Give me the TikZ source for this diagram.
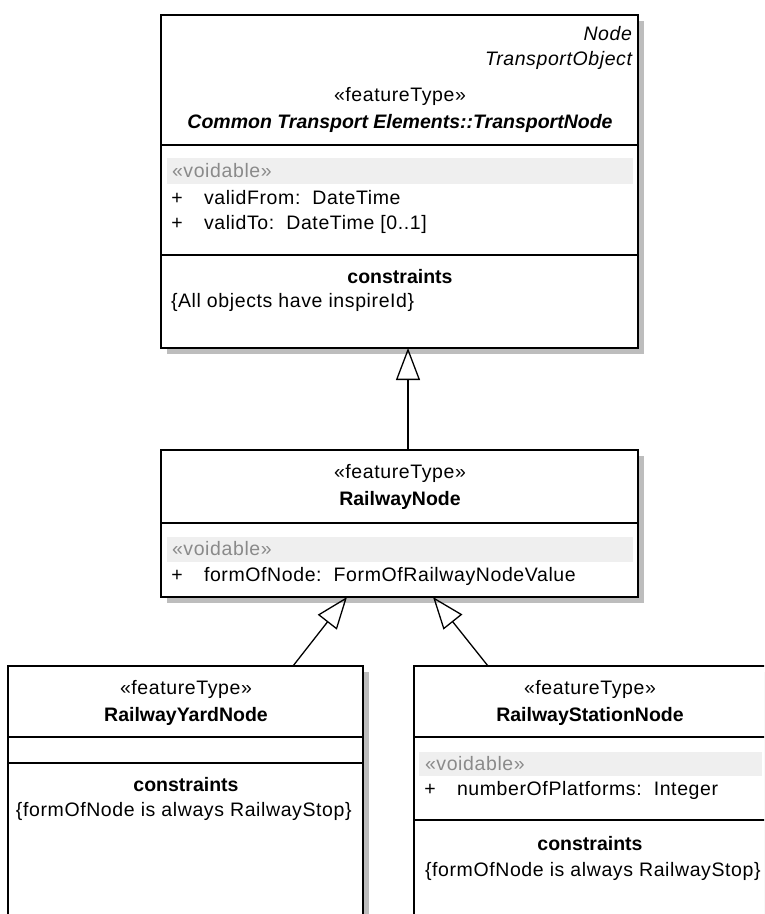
\documentclass[tikz,border=0pt]{standalone}
\usepackage{fontspec}
\setmainfont{Liberation Sans}[
  LetterSpace=3.1,
  BoldFeatures={LetterSpace=0},
  BoldItalicFeatures={LetterSpace=0}]
\usetikzlibrary{arrows.meta,shadows}
\definecolor{shadowgray}{HTML}{BDBDBD}
\definecolor{voidband}{HTML}{EFEFEF}
\definecolor{voidtext}{HTML}{8A8A8A}

\begin{document}
\begin{tikzpicture}[x=1pt,y=-1pt,
  classbox/.style={draw, line width=2pt, fill=white, outer sep=0pt, inner sep=0pt,
    anchor=north west,
    drop shadow={shadow xshift=5.5pt, shadow yshift=-5.5pt, fill=shadowgray, opacity=1}},
  divider/.style={line width=2pt},
  band/.style={fill=voidband, draw=none},
  txt/.style={inner sep=0pt, outer sep=0pt, anchor=base, font=\fontsize{19.5}{25}\selectfont},
  lefttxt/.style={txt, anchor=base west},
  righttxt/.style={txt, anchor=base east},
  stereo/.style={txt},
  cname/.style={txt, font=\fontsize{19.5}{25}\selectfont\bfseries},
  voidtag/.style={lefttxt, text=voidtext},
  gen/.style={line width=1.3pt, -{Triangle[open, length=32pt, width=24pt, line width=1.3pt]}}
]
\useasboundingbox (0,0) rectangle (764,914);
\clip (0,0) rectangle (764,914);

% ---------- TransportNode ----------
\node[classbox, minimum width=477pt, minimum height=333pt] (tn) at (161,15) {};
\draw[divider] (161,145) -- (638,145);
\draw[divider] (161,255) -- (638,255);
\fill[band] (167,158) rectangle (633,184);
\node[righttxt, font=\fontsize{19.5}{25}\selectfont\itshape] (tnp1) at (632,40) {Node};
\node[righttxt, font=\fontsize{19.5}{25}\selectfont\itshape] (tnp2) at (632,65) {TransportObject};
\node[stereo] (tns) at (400,101) {«featureType»};
\node[cname, font=\fontsize{19.5}{25}\selectfont\bfseries\itshape] (tnn) at (400,128) {Common Transport Elements::TransportNode};
\node[voidtag] (tnv) at (172,177) {«voidable»};
\node[txt] (tnpa) at (177,204) {+};
\node[lefttxt] (tna) at (204,204) {validFrom:\ \ DateTime};
\node[txt] (tnpb) at (177,229) {+};
\node[lefttxt] (tnb) at (204,229) {validTo:\ \ DateTime [0..1]};
\node[cname] (tnc) at (400,283) {constraints};
\node[lefttxt] (tnct) at (171,307) {\{All objects have inspireId\}};

% ---------- RailwayNode ----------
\node[classbox, minimum width=477pt, minimum height=147pt] (rn) at (161,450) {};
\draw[divider] (161,523) -- (638,523);
\fill[band] (167,537) rectangle (633,562);
\node[stereo] (rns) at (400,478) {«featureType»};
\node[cname] (rnn) at (400,505) {RailwayNode};
\node[voidtag] (rnv) at (172,555) {«voidable»};
\node[txt] (rnpa) at (177,581) {+};
\node[lefttxt] (rna) at (204,581) {formOfNode:\ \ FormOfRailwayNodeValue};

% ---------- RailwayYardNode ----------
\node[classbox, minimum width=355pt, minimum height=280pt] (yn) at (8,666) {};
\draw[divider] (8,737) -- (363,737);
\draw[divider] (8,763) -- (363,763);
\node[stereo] (yns) at (186,694) {«featureType»};
\node[cname] (ynn) at (186,721) {RailwayYardNode};
\node[cname] (ync) at (186,791) {constraints};
\node[lefttxt] (ynct) at (16,816) {\{formOfNode is always RailwayStop\}};

% ---------- RailwayStationNode ----------
\node[classbox, minimum width=353pt, minimum height=280pt] (sn) at (414,666) {};
\draw[divider] (414,737) -- (767,737);
\draw[divider] (414,820) -- (767,820);
\fill[band] (419,752) rectangle (762,776);
\node[stereo] (sns) at (590,694) {«featureType»};
\node[cname] (snn) at (590,721) {RailwayStationNode};
\node[voidtag] (snv) at (425,770) {«voidable»};
\node[txt] (snpa) at (430,795) {+};
\node[lefttxt] (sna) at (457,795) {numberOfPlatforms:\ \ Integer};
\node[cname] (snc) at (590,850) {constraints};
\node[lefttxt] (snct) at (425,876) {\{formOfNode is always RailwayStop\}};

% ---------- generalizations ----------
\coordinate (g1) at (408,450);
\coordinate (g2a) at (293,666);
\coordinate (g2b) at (347,597);
\coordinate (g3a) at (488,666);
\coordinate (g3b) at (433,597);
\draw[gen] (g1) -- (g1 |- tn.south);
\draw[gen] (g2a) -- (g2b);
\draw[gen] (g3a) -- (g3b);
\end{tikzpicture}
\end{document}
